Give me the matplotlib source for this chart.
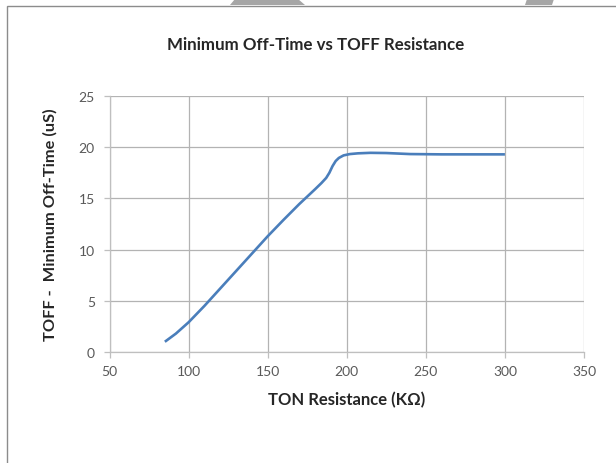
import matplotlib

matplotlib.use("Agg")
import matplotlib.pyplot as plt
from matplotlib.patches import Polygon, Rectangle

# Values
ton_resistance = [85, 92, 100, 110, 120, 130, 140, 150, 160, 170, 180, 184,
                  187, 189, 191, 193, 195, 198, 202, 207, 215, 225, 240, 260,
                  280, 300]
min_off_time = [1.0, 1.8, 2.9, 4.5, 6.2, 7.9, 9.6, 11.3, 12.9, 14.45, 15.9, 16.5,
                17.0, 17.5, 18.15, 18.65, 18.95, 19.2, 19.33, 19.4, 19.45, 19.43,
                19.33, 19.3, 19.3, 19.3]

x_ticks = [50, 100, 150, 200, 250, 300, 350]
y_ticks = [0, 5, 10, 15, 20, 25]

FONT = ["Lato", "DejaVu Sans"]
plt.rcParams["font.family"] = FONT

W, H = 616, 464
fig = plt.figure(figsize=(W / 100, H / 100), dpi=100)
ax = fig.add_axes([109.5 / W, 1 - 353 / H, (584 - 109.5) / W, (353 - 97) / H])

ax.plot(ton_resistance, min_off_time, color="#4a7ebb", linewidth=1.9,
        solid_capstyle="butt", solid_joinstyle="round")

ax.set_xlim(x_ticks[0], x_ticks[-1])
ax.set_ylim(y_ticks[0], y_ticks[-1])
ax.set_xticks(x_ticks)
ax.set_yticks(y_ticks)
ax.grid(True, color="#b3b3b3", linewidth=0.9)
ax.set_axisbelow(True)
for side in ("top", "right"):
    ax.spines[side].set_visible(False)
for side in ("left", "bottom"):
    ax.spines[side].set_color("#bfbfbf")
    ax.spines[side].set_linewidth(0.9)
ax.tick_params(length=4.5, width=0.9, color="#bfbfbf", labelcolor="#595959",
               labelsize=10)
ax.tick_params(axis="y", pad=6)
ax.tick_params(axis="x", pad=5)

ax.set_xlabel("TON Resistance (KΩ)", fontsize=12, fontweight="bold",
              color="#262626", labelpad=10)
ax.set_ylabel("TOFF -  Minimum Off-Time (uS)", fontsize=11.8, fontweight="bold",
              color="#262626", labelpad=15)
fig.text(316 / W, 1 - 45.5 / H, "Minimum Off-Time vs TOFF Resistance",
         ha="center", va="center", fontsize=12.2, fontweight="bold",
         color="#262626")

# chart frame (continues past the right and bottom edges)
fig.add_artist(Rectangle((6.5 / W, -0.1), 1.2, (1 - 6.5 / H) + 0.1,
                         transform=fig.transFigure, fill=False,
                         edgecolor="#8c8c8c", linewidth=1.0))
# bits of a page watermark poking in at the top
fig.add_artist(Polygon([(235 / W, 1.0), (298 / W, 1.0), (305 / W, 1 - 6 / H),
                        (230 / W, 1 - 6 / H)], transform=fig.transFigure,
                       facecolor="#a6a6a6", edgecolor="none"))
fig.add_artist(Polygon([(527 / W, 1.0), (554 / W, 1.0), (552 / W, 1 - 6 / H),
                        (525 / W, 1 - 6 / H)], transform=fig.transFigure,
                       facecolor="#a6a6a6", edgecolor="none"))

fig.savefig("out.png", dpi=100, facecolor="white")
